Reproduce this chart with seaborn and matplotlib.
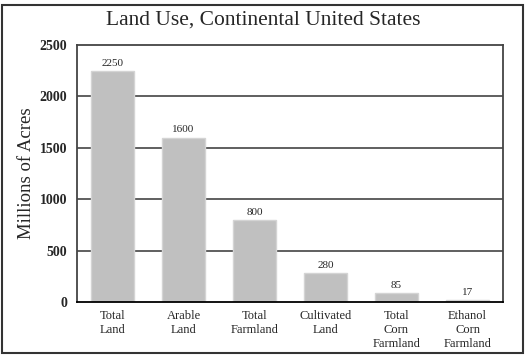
import matplotlib
matplotlib.use("Agg")
import matplotlib.pyplot as plt
import seaborn as sns
import pandas as pd
from matplotlib.patches import Rectangle

categories = ["Total\nLand", "Arable\nLand", "Total\nFarmland", "Cultivated\nLand",
              "Total\nCorn\nFarmland", "Ethanol\nCorn\nFarmland"]
acres = [2250, 1600, 800, 280, 85, 17]
yticks = [0, 500, 1000, 1500, 2000, 2500]

sns.set_style("white")
plt.rcParams["font.family"] = ["Liberation Serif", "DejaVu Serif"]

df = pd.DataFrame({"use": categories, "acres": acres})

fig = plt.figure(figsize=(5.26, 3.55), dpi=100)
ax = fig.add_axes([77 / 526, 53 / 355, 426 / 526, 257 / 355])

for y in yticks[1:-1]:
    ax.axhline(y, color="#444444", lw=1.2, zorder=0)

sns.barplot(data=df, x="use", y="acres", color="#c0c0c0", saturation=1,
            width=0.61, edgecolor="#d4d4d4", linewidth=1, ax=ax, zorder=2)

for i, v in enumerate(acres):
    ax.text(i, v + 30, f"{v}", ha="center", va="bottom", fontsize=8)

ax.set_xlim(-0.5, 5.5)
ax.set_ylim(0, 2500)
ax.set_yticks(yticks)
ax.set_yticklabels([str(t) for t in yticks], fontsize=10, fontweight="bold")
ax.tick_params(axis="y", direction="out", length=3, width=1.2, color="#444444", pad=4)
ax.tick_params(axis="x", length=0, labelsize=9, pad=6)
ax.set_xlabel("")
ax.set_ylabel("Millions of Acres", fontsize=13.5, labelpad=3)
for s in ax.spines.values():
    s.set_visible(True)
    s.set_color("#444444")
    s.set_linewidth(1.3)
ax.spines["bottom"].set_color("black")

fig.suptitle("Land Use, Continental United States", fontsize=15.5, y=0.97)
fig.patches.append(Rectangle((2 / 526, 2 / 355), 521 / 526, 348 / 355,
                             transform=fig.transFigure, fill=False,
                             edgecolor="#333333", lw=1.5))

plt.savefig("out.png", dpi=100)
plt.close()
